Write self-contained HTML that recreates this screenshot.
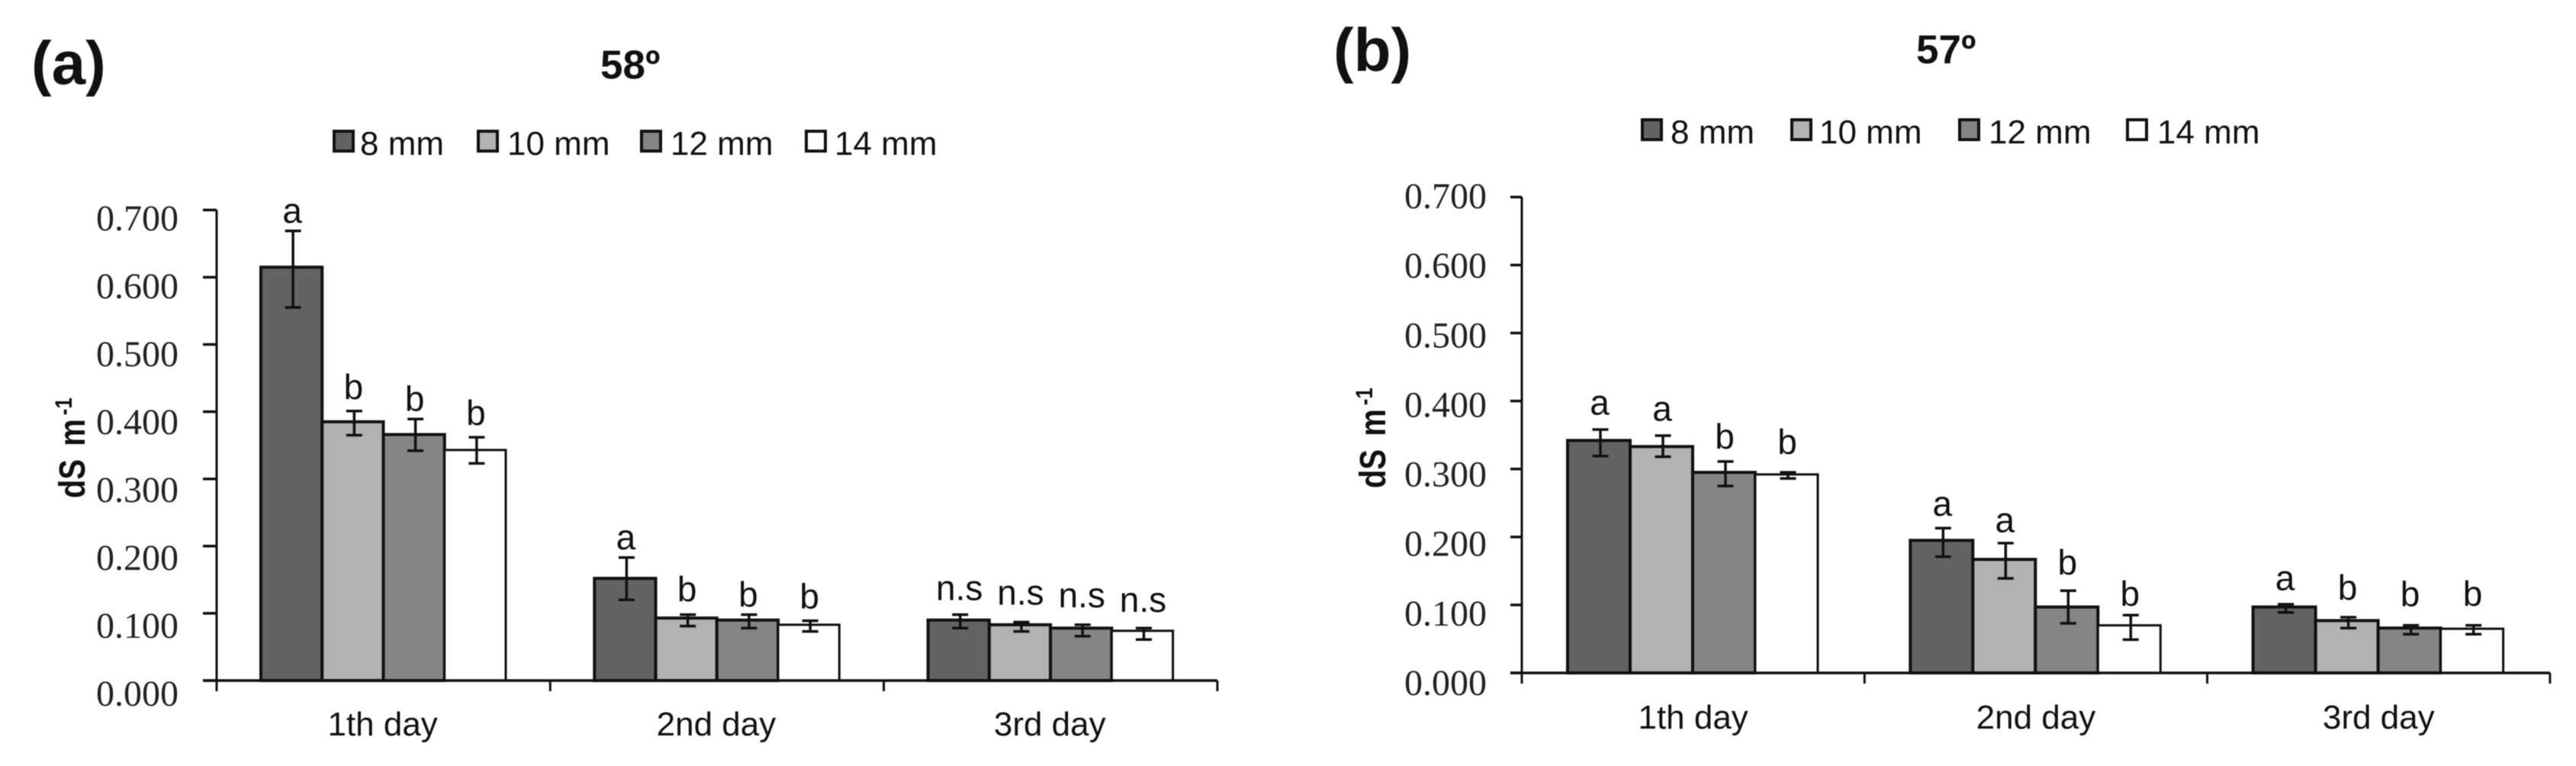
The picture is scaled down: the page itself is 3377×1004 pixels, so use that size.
<!DOCTYPE html>
<html lang="en">
<head>
<meta charset="utf-8">
<title>Electrical conductivity bar charts</title>
<style>
html,body{margin:0;padding:0;background:#fff;}
#figure{display:block;width:3377px;height:1004px;filter:blur(0.6px);}
text{font-family:"Liberation Sans",Arial,sans-serif;fill:#111;}
.serif{font-family:"Liberation Serif","Times New Roman",serif;fill:#222;}
</style>
</head>
<body>
<svg id="figure" xmlns="http://www.w3.org/2000/svg" width="3377" height="1004" viewBox="0 0 3377 1004">
  <rect x="0" y="0" width="3377" height="1004" fill="#fff"/>
  <text x="41" y="110" font-size="80" font-weight="700">(a)</text>
  <text x="787" y="103" font-size="53" font-weight="700">58º</text>
  <text transform="translate(111,653) rotate(-90) scale(1,1.2)" font-size="40" font-weight="700" word-spacing="6">dS m<tspan dx="5" dy="-14" font-size="26">-1</tspan></text>
  <text x="1748" y="93" font-size="80" font-weight="700">(b)</text>
  <text x="2512" y="83" font-size="53" font-weight="700">57º</text>
  <text transform="translate(1816,640) rotate(-90) scale(1,1.2)" font-size="40" font-weight="700" word-spacing="6">dS m<tspan dx="5" dy="-14" font-size="26">-1</tspan></text>
  <g id="panel-a"></g>
  <g id="panel-b"></g>
</svg>
<script>
// Shared categories and labels
const categories = ['1th day', '2nd day', '3rd day'];
const seriesNames = ['8 mm', '10 mm', '12 mm', '14 mm'];
const seriesColors = ['#636363', '#b2b2b2', '#858585', '#ffffff'];
const yTicks = [0, 0.1, 0.2, 0.3, 0.4, 0.5, 0.6, 0.7];
const yTickLabels = ['0.000', '0.100', '0.200', '0.300', '0.400', '0.500', '0.600', '0.700'];

// Panel (a) 58º: values by day, then by series
const valuesA = [
  [0.615, 0.385, 0.366, 0.343],
  [0.152, 0.093, 0.090, 0.083],
  [0.090, 0.083, 0.078, 0.074]
];
const errorHighA = [
  [0.669, 0.401, 0.389, 0.362],
  [0.183, 0.098, 0.098, 0.089],
  [0.098, 0.087, 0.083, 0.078]
];
const errorLowA = [
  [0.555, 0.365, 0.342, 0.323],
  [0.120, 0.081, 0.078, 0.073],
  [0.078, 0.073, 0.066, 0.061]
];
const significanceA = [
  ['a', 'b', 'b', 'b'],
  ['a', 'b', 'b', 'b'],
  ['n.s', 'n.s', 'n.s', 'n.s']
];
const significanceLiftA = [
  [0.012, 0.018, 0.012, 0.018],
  [0.012, 0.020, 0.012, 0.018],
  [0.022, 0.026, 0.026, 0.024]
];

// Panel (b) 57º
const valuesB = [
  [0.342, 0.333, 0.295, 0.292],
  [0.195, 0.167, 0.097, 0.070],
  [0.097, 0.077, 0.066, 0.065]
];
const errorHighB = [
  [0.358, 0.349, 0.311, 0.295],
  [0.213, 0.191, 0.121, 0.085],
  [0.101, 0.082, 0.070, 0.070]
];
const errorLowB = [
  [0.319, 0.318, 0.275, 0.286],
  [0.171, 0.139, 0.073, 0.049],
  [0.089, 0.066, 0.057, 0.057]
];
const significanceB = [
  ['a', 'a', 'b', 'b'],
  ['a', 'a', 'b', 'b'],
  ['a', 'b', 'b', 'b']
];
const significanceLiftB = [
  [0.022, 0.022, 0.019, 0.027],
  [0.018, 0.016, 0.024, 0.014],
  [0.021, 0.026, 0.028, 0.029]
];

const SVG_NS = 'http://www.w3.org/2000/svg';

function addLine(parent, name, x1, y1, x2, y2, width) {
  const el = document.createElementNS(SVG_NS, 'line');
  
  
  el.setAttribute('x1', x1);
  el.setAttribute('y1', y1);
  el.setAttribute('x2', x2);
  el.setAttribute('y2', y2);
  el.setAttribute('stroke', '#111');
  el.setAttribute('stroke-width', width);
  parent.appendChild(el);
  return el;
}

function addRect(parent, name, x, y, w, h, fill, width) {
  const el = document.createElementNS(SVG_NS, 'rect');
  
  
  el.setAttribute('x', x);
  el.setAttribute('y', y);
  el.setAttribute('width', w);
  el.setAttribute('height', h);
  el.setAttribute('fill', fill);
  el.setAttribute('stroke', '#111');
  el.setAttribute('stroke-width', width);
  parent.appendChild(el);
  return el;
}

function addText(parent, name, content, x, y, size, anchor, cls) {
  const el = document.createElementNS(SVG_NS, 'text');
  
  
  el.setAttribute('x', x);
  el.setAttribute('y', y);
  el.setAttribute('font-size', size);
  el.setAttribute('text-anchor', anchor);
  if (cls) el.setAttribute('class', cls);
  el.textContent = content;
  parent.appendChild(el);
  return el;
}

function drawPanel(cfg) {
  const g = document.getElementById(cfg.id);
  const yScale = v => cfg.baseY - v * cfg.unitY;
  const groupX = i => cfg.axisX + i * cfg.groupW;
  const barX = (i, j) => groupX(i) + cfg.barInset + j * cfg.barW;
  const labelBaseline = v => cfg.tickLabelBottom - (v / 0.7) * (cfg.tickLabelBottom - cfg.tickLabelTop);

  // legend
  seriesNames.forEach((name, j) => {
    addRect(g, cfg.id + '-legend-swatch-' + name.replace(' ', ''), cfg.legendSwatchX[j], cfg.legendY - 31, 25, 26, seriesColors[j], 4);
    addText(g, cfg.id + '-legend-label-' + name.replace(' ', ''), name, cfg.legendTextX[j], cfg.legendY, 44, 'start');
  });

  // bars
  categories.forEach((day, i) => {
    seriesNames.forEach((name, j) => {
      const x = barX(i, j);
      const top = yScale(cfg.values[i][j]);
      const suffix = '-day' + (i + 1) + '-' + name.replace(' ', '');
      addRect(g, cfg.id + '-bar' + suffix, x, top, cfg.barW, cfg.baseY - top, seriesColors[j], j === 3 ? 3 : 4);
    });
  });

  // error bars and significance letters
  categories.forEach((day, i) => {
    seriesNames.forEach((name, j) => {
      const cx = barX(i, j) + cfg.barW / 2 + 2;
      const hi = yScale(cfg.high[i][j]);
      const lo = yScale(cfg.low[i][j]);
      const suffix = '-day' + (i + 1) + '-' + name.replace(' ', '');
      addLine(g, cfg.id + '-error-stem' + suffix, cx, hi, cx, lo, 3.5);
      addLine(g, cfg.id + '-error-cap-high' + suffix, cx - 10.5, hi, cx + 10.5, hi, 3.5);
      addLine(g, cfg.id + '-error-cap-low' + suffix, cx - 10.5, lo, cx + 10.5, lo, 3.5);
      const labelY = yScale(cfg.high[i][j] + cfg.lift[i][j]);
      addText(g, cfg.id + '-significance' + suffix, cfg.sig[i][j], cx - 1, labelY, 46, 'middle');
    });
  });

  // y axis
  addLine(g, cfg.id + '-y-axis-line', cfg.axisX, yScale(0.7), cfg.axisX, cfg.tickBottom, 3);
  yTicks.forEach((v, k) => {
    addLine(g, cfg.id + '-y-tick-' + yTickLabels[k], cfg.tickLeft, yScale(v), cfg.axisX, yScale(v), 3.5);
    addText(g, cfg.id + '-y-tick-label-' + yTickLabels[k], yTickLabels[k], cfg.tickLabelRight, labelBaseline(v), 48, 'end', 'serif');
  });

  // x axis
  addLine(g, cfg.id + '-x-axis-line', cfg.tickLeft, cfg.baseY, groupX(categories.length), cfg.baseY, 3.5);
  for (let i = 0; i <= categories.length; i++) {
    addLine(g, cfg.id + '-x-tick-' + i, groupX(i), cfg.baseY, groupX(i), cfg.tickBottom, 3);
  }
  categories.forEach((day, i) => {
    addText(g, cfg.id + '-x-label-' + (i + 1), day, groupX(i) + cfg.groupW / 2 + cfg.xLabelShift, cfg.xLabelY, 44, 'middle');
  });
}

drawPanel({
  id: 'panel-a', values: valuesA, high: errorHighA, low: errorLowA, sig: significanceA, lift: significanceLiftA,
  axisX: 284, baseY: 892, unitY: 881, groupW: 437.3, barInset: 58, barW: 80.25,
  tickLeft: 266, tickBottom: 906, tickLabelRight: 234, tickLabelBottom: 925, tickLabelTop: 302,
  legendY: 203, legendSwatchX: [438, 627, 841, 1057], legendTextX: [472, 665, 879, 1094],
  xLabelY: 964, xLabelShift: -1
});

drawPanel({
  id: 'panel-b', values: valuesB, high: errorHighB, low: errorLowB, sig: significanceB, lift: significanceLiftB,
  axisX: 1995, baseY: 882, unitY: 891, groupW: 449.3, barInset: 60, barW: 82,
  tickLeft: 1980, tickBottom: 896, tickLabelRight: 1949, tickLabelBottom: 911, tickLabelTop: 273,
  legendY: 188, legendSwatchX: [2153, 2349, 2569, 2789], legendTextX: [2190, 2385, 2607, 2828],
  xLabelY: 955, xLabelShift: 0
});
</script>
</body>
</html>
